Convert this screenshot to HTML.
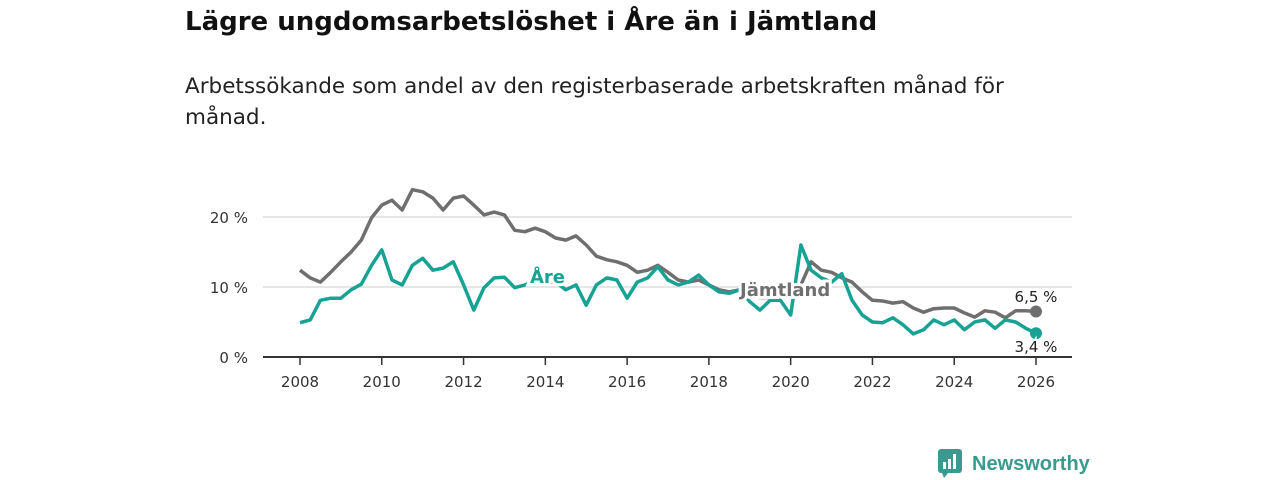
<!DOCTYPE html>
<html><head><meta charset="utf-8"><style>
body{margin:0;width:1280px;height:480px;background:#fff;font-family:"DejaVu Sans","Liberation Sans",sans-serif;overflow:hidden;position:relative}
h1{position:absolute;left:185px;top:7px;margin:0;font-size:26px;font-weight:bold;color:#111}
p{position:absolute;left:185px;top:71px;margin:0;font-size:21.5px;line-height:31px;color:#222;width:880px}
</style></head><body>
<h1>Lägre ungdomsarbetslöshet i Åre än i Jämtland</h1>
<p>Arbetssökande som andel av den registerbaserade arbetskraften månad för månad.</p>
<svg id="c" width="1280" height="480" style="position:absolute;left:0;top:0"></svg>
<div style="position:absolute;left:938px;top:449px;display:flex;align-items:center">
<svg width="26" height="30"><rect x="0" y="0" width="24" height="24" rx="3" fill="#3a9a8f"/><path d="M4 24 L10 24 L6 29 Z" fill="#3a9a8f"/><rect x="5" y="13" width="3" height="7" fill="#fff"/><rect x="10" y="10" width="3" height="10" fill="#fff"/><rect x="15" y="5" width="3" height="15" fill="#fff"/></svg>
<span style="font-size:20px;font-weight:bold;color:#3a9a8f;margin-left:8px;font-family:'Liberation Sans',sans-serif">Newsworthy</span></div>
<script>
const years=[2008,2010,2012,2014,2016,2018,2020,2022,2024,2026];
const yTicks=[0,10,20];
const start=2008,step=0.25;
const jamtland=[12.4,11.3,10.7,12.1,13.6,15,16.7,19.9,21.7,22.4,21,23.9,23.6,22.7,21,22.7,23,21.7,20.3,20.7,20.3,18.1,17.9,18.4,17.9,17,16.7,17.3,16,14.4,13.9,13.6,13.1,12.1,12.4,13.1,12.1,11,10.7,11,10.3,9.6,9.3,9.6,8.6,8.5,8.5,8.6,8.7,10.3,13.6,12.4,12.1,11.3,10.7,9.3,8.1,8,7.7,7.9,7,6.4,6.9,7,7,6.3,5.7,6.6,6.4,5.6,6.6,6.6,6.5];
const are=[4.9,5.3,8.1,8.4,8.4,9.6,10.4,13.1,15.3,11,10.3,13.1,14.1,12.4,12.7,13.6,10.3,6.7,9.9,11.3,11.4,9.9,10.3,11,10.7,10.7,9.6,10.3,7.4,10.3,11.3,11,8.4,10.7,11.3,12.9,11,10.3,10.7,11.7,10.3,9.3,9.1,9.6,7.9,6.7,8.1,8.1,6,16,12.4,11.3,10.7,11.9,8.1,6,5,4.9,5.6,4.6,3.3,3.9,5.3,4.6,5.3,3.9,5,5.3,4.1,5.3,5,4.1,3.4];
const x=v=>300+(v-2008)*(1036-300)/18;
const y=v=>357-v*7;
const s=document.getElementById('c');const N='http://www.w3.org/2000/svg';
function mk(t,a,txt){const e=document.createElementNS(N,t);for(const k in a)e.setAttribute(k,a[k]);if(txt!=null)e.textContent=txt;s.appendChild(e);return e;}
yTicks.forEach(t=>{
 if(t>0){const g=mk('line',{x1:263,x2:1072,y1:y(t),y2:y(t),stroke:'#ddd','stroke-width':1.5});
 
 }
 const l=mk('text',{x:248,y:y(t)+6,'text-anchor':'end','font-size':15,fill:'#333'},t+' %');
 
 
});
const ax=mk('line',{x1:263,x2:1072,y1:357,y2:357,stroke:'#333','stroke-width':2});


years.forEach(t=>{
 const tk=mk('line',{x1:x(t),x2:x(t),y1:357,y2:365,stroke:'#333','stroke-width':1.5});
 
 
 const l=mk('text',{x:x(t),y:387,'text-anchor':'middle','font-size':15,fill:'#333'},t);
 
 
});
function line(d,c,n){const p=mk('path',{d:d.map((v,i)=>(i?'L':'M')+x(start+i*step).toFixed(1)+' '+y(v).toFixed(1)).join(''),fill:'none',stroke:c,'stroke-width':3.5,'stroke-linejoin':'round'});
 
 
 const last=d.length-1;
 const dot=mk('circle',{cx:x(start+last*step),cy:y(d[last]),r:6,fill:c});
 
 }
line(jamtland,'#6f6f70','jamtland-line');
line(are,'#17a293','are-line');
function lab(tx,xx,yy,c,n,w){const t=mk('text',{x:xx,y:yy,'font-size':w?18:15,'font-weight':w?'bold':'normal',fill:c,stroke:'#fff','stroke-width':w?6:4,'paint-order':'stroke','text-anchor':w?'start':'middle'},tx);
 
 }
lab('Åre',530,283,'#17a293','are-label',true);
lab('Jämtland',740,296,'#6f6f70','jamtland-label',true);
lab('6,5 %',1036,302,'#222','jamtland-end-value',false);
lab('3,4 %',1036,352,'#222','are-end-value',false);
</script>
</body></html>
